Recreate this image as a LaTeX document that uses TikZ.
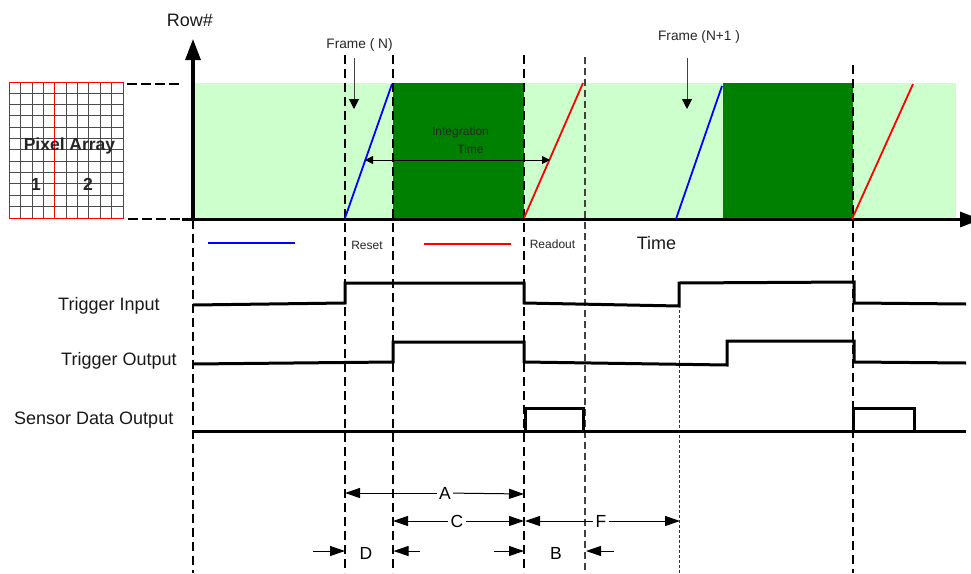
\documentclass[tikz,border=0pt]{standalone}
\usepackage{fontspec}
\setmainfont{Liberation Sans}
\usetikzlibrary{arrows.meta}
\definecolor{lightgreen}{RGB}{204,255,204}
\definecolor{darkgreen}{RGB}{0,128,0}
\tikzset{
  axisline/.style={line width=3.2pt,-{Triangle[length=21pt,width=15pt]}},
  timeline/.style={line width=2pt,dash pattern=on 9pt off 5pt},
  thintimeline/.style={line width=1.2pt,dash pattern=on 7pt off 4pt,black!75},
  dotline/.style={line width=1pt,dash pattern=on 3pt off 2pt,black!80},
  signal/.style={line width=3pt,line join=miter},
  rampline/.style={line width=1.8pt},
  dimline/.style={line width=1pt,-{Triangle[length=15pt,width=10pt]}},
  downarrow/.style={line width=1pt,black!75,-{Triangle[length=10pt,width=10pt,color=black]}},
  siglabel/.style={inner sep=0pt,font=\fontsize{18}{20}\selectfont,text=black!90},
  smalllabel/.style={inner sep=0pt,font=\fontsize{12}{14}\selectfont,text=black!85},
  framelabel/.style={inner sep=0pt,font=\fontsize{13.7}{16}\selectfont,text=black!85},
  boldlabel/.style={inner sep=0pt,font=\bfseries\fontsize{17.5}{20}\selectfont,text=black!85},
  dimlabel/.style={inner sep=2pt,font=\fontsize{17.5}{20}\selectfont}
}
\begin{document}
\begin{tikzpicture}[x=1pt,y=1pt,yscale=-1,xscale=1]
\useasboundingbox (0,0) rectangle (971,573);

%Exposure bands
\fill [lightgreen] (194,83) rectangle (956,218);
\fill [darkgreen] (393,83) rectangle (524,218);
\fill [darkgreen] (723,83) rectangle (853,218);

%Pixel grid
\foreach \i in {1,...,11} {
  \draw [line width=1pt,black!70] (9,82+11.33*\i) -- (123,82+11.33*\i);
}
\foreach \i in {1,2,3,5,6,7,8,9} {
  \draw [line width=1pt,black!70] (9.3+11.37*\i,82) -- (9.3+11.37*\i,218);
}
\draw [line width=1pt,red] (9.3,82) rectangle (123,218);
\draw [line width=1pt,red] (54.6,82) -- (54.6,218);

%Level lines to the grid
\draw [line width=1.4pt,dash pattern=on 10pt off 4pt] (127,84) -- (180,84);
\draw [line width=1.4pt,dash pattern=on 10pt off 4pt] (128,219) -- (182,219);

%Time lines
\draw [timeline] (193,220) -- (193,573);
\draw [timeline] (345,55) -- (345,573);
\draw [timeline] (393,55) -- (393,573);
\draw [timeline] (524,55) -- (524,573);
\draw [thintimeline] (585,57) -- (585,573);
\draw [dotline] (679.5,310) -- (679.5,573);
\draw [timeline] (853,65) -- (853,573);

%Axes
\draw [axisline] (193,219.5) -- (193,39);
\draw [axisline] (182,219.5) -- (981,219.5);

%Row ramps
\draw [rampline,blue] (345,218) -- (392,84);
\draw [rampline,blue] (676,219) -- (722,86);
\draw [rampline,red] (524,218) -- (583,83);
\draw [rampline,red] (852,219) -- (913,84);
\draw [line width=1.4pt,blue] (208,243) -- (295,243);
\draw [line width=1.4pt,red] (424,244) -- (511,244);

%Signals
\draw [signal] (193,305) -- (345,303) -- (345,283) -- (524,283) -- (524,303) -- (679,306) -- (679,283) -- (854,282) -- (854,303) -- (966,304);
\draw [signal] (193,364) -- (393,362) -- (393,342) -- (524,342) -- (524,362) -- (727,365) -- (727,341) -- (854,341) -- (854,362) -- (966,363);
\draw [signal] (193,431) -- (966,431);
\draw [signal] (525,431) -- (525,408.5) -- (583,408.5) -- (583,431);
\draw [signal] (853,431) -- (853,408.5) -- (914,408.5) -- (914,431);

% Text Node
\node (rowlabel) [siglabel] at (190,20) {Row\#};
\node (frameN) [framelabel] at (359.5,45) {Frame ( N)};
\node (frameNext) [framelabel] at (699,37) {Frame (N+1 )};
\node (integ) [smalllabel] at (460.5,132) {Integration};
\node (integTime) [smalllabel] at (470.5,149) {Time};
\node (pixel) [boldlabel] at (69.5,146) {Pixel Array};
\node (part1) [boldlabel] at (36,184) {1};
\node (part2) [boldlabel] at (88,184) {2};
\node (reset) [smalllabel] at (367,245) {Reset};
\node (readout) [smalllabel] at (552.5,244) {Readout};
\node (timelabel) [siglabel] at (656.5,243) {Time};
\node (trigin) [siglabel,anchor=west] at (58,306) {Trigger Input};
\node (trigout) [siglabel,anchor=west] at (61,361) {Trigger Output};
\node (sensor) [siglabel,anchor=west] at (14,420) {Sensor Data Output};
\node (dimA) [dimlabel] at (445,493) {A};
\node (dimC) [dimlabel] at (457,521) {C};
\node (dimF) [dimlabel] at (601,521) {F};
\node (dimD) [dimlabel] at (366,553) {D};
\node (dimB) [dimlabel] at (556,553) {B};

%Arrow ends
\coordinate (frameNtop) at (354,58);
\coordinate (frameNtip) at (354,109);
\coordinate (frameNexttop) at (687,58);
\coordinate (frameNexttip) at (687,109);
\coordinate (integmid) at (450,160);
\coordinate (integL) at (365,160);
\coordinate (integR) at (550,160);
\coordinate (aL) at (345,493);
\coordinate (aR) at (524,494);
\coordinate (cL) at (393,521);
\coordinate (cR) at (524,521);
\coordinate (fL) at (525,521);
\coordinate (fR) at (680,521);
\coordinate (dLs) at (313,551);
\coordinate (dLe) at (345,551);
\coordinate (dRs) at (420,551);
\coordinate (dRe) at (393.5,551);
\coordinate (bLs) at (494,551);
\coordinate (bLe) at (524,551);
\coordinate (bRs) at (614,551);
\coordinate (bRe) at (586,551);

%Straight Lines
\draw [downarrow] (frameNtop) -- (frameNtip);
\draw [downarrow] (frameNexttop) -- (frameNexttip);
\draw [line width=1pt,-{Triangle[length=8pt,width=8pt]}] (integmid) -- (integL);
\draw [line width=1pt,-{Triangle[length=8pt,width=8pt]}] (integmid) -- (integR);
\draw [dimline] (dimA) -- (aL);
\draw [dimline] (dimA) -- (aR);
\draw [dimline] (dimC) -- (cL);
\draw [dimline] (dimC) -- (cR);
\draw [dimline] (dimF) -- (fL);
\draw [dimline] (dimF) -- (fR);
\draw [dimline] (dLs) -- (dLe);
\draw [dimline] (dRs) -- (dRe);
\draw [dimline] (bLs) -- (bLe);
\draw [dimline] (bRs) -- (bRe);

\end{tikzpicture}
\end{document}
